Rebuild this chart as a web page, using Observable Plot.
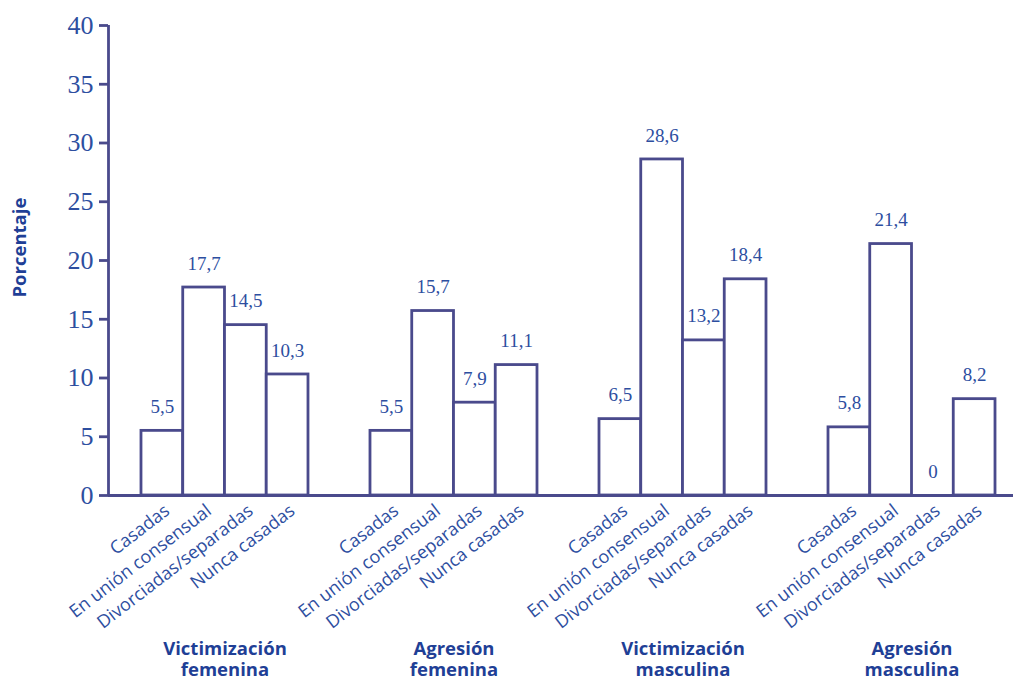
<!DOCTYPE html>
<html>
<head>
<meta charset="utf-8">
<script src="https://cdn.jsdelivr.net/npm/d3@7"></script>
<script src="https://cdn.jsdelivr.net/npm/@observablehq/plot@0.6"></script>
<style>
  html, body { margin: 0; padding: 0; background: #ffffff; }
  #chart svg { display: block; }
</style>
</head>
<body>
<div id="chart"></div>
<script>
// ---- Data ----
const groups = ["Victimización\nfemenina", "Agresión\nfemenina", "Victimización\nmasculina", "Agresión\nmasculina"];
const categories = ["Casadas", "En unión consensual", "Divorciadas/separadas", "Nunca casadas"];
const valuesVictimizacionFemenina = [5.5, 17.7, 14.5, 10.3];
const valuesAgresionFemenina = [5.5, 15.7, 7.9, 11.1];
const valuesVictimizacionMasculina = [6.5, 28.6, 13.2, 18.4];
const valuesAgresionMasculina = [5.8, 21.4, 0, 8.2];
const yTicks = [0, 5, 10, 15, 20, 25, 30, 35, 40];

const seriesValues = [valuesVictimizacionFemenina, valuesAgresionFemenina, valuesVictimizacionMasculina, valuesAgresionMasculina];

// layout of slots along a linear x scale: each group = 4 bar slots + a gap
const groupStep = 5.485;
const rows = [];
seriesValues.forEach((vals, g) => {
  vals.forEach((v, c) => {
    const x1 = g * groupStep + c;
    rows.push({group: groups[g], category: categories[c], value: v, x1, x2: x1 + 1, xc: x1 + 0.5});
  });
});
const groupRows = groups.map((name, g) => ({name, xc: g * groupStep + 2}));
const fmt = v => String(v).replace(".", ",");

const xDomain = [-0.79, 20.886];
const stroke = "#4a4a8c";
const textBlue = "#2d4e9f";
const boldBlue = "#1f3f96";
const serif = "'Liberation Serif', 'DejaVu Serif', serif";
const sans = "'Open Sans', 'Noto Sans', sans-serif";

const chart = Plot.plot({
  width: 1013,
  height: 680,
  marginLeft: 108,
  marginRight: 0,
  marginTop: 25,
  marginBottom: 185,
  style: {background: "#ffffff", overflow: "visible"},
  x: {type: "linear", domain: xDomain, axis: null},
  y: {domain: [0, 40], axis: null},
  marks: [
    Plot.rect(rows, {x1: "x1", x2: "x2", y1: 0, y2: "value", fill: "#ffffff", stroke, strokeWidth: 2.8}),
    Plot.ruleY([0], {stroke, strokeWidth: 2.8}),
    Plot.ruleX([xDomain[0]], {y1: 0, y2: 40, stroke, strokeWidth: 2.8}),
    Plot.axisY({ticks: yTicks, tickSize: 9, tickPadding: 6, tickFormat: d => d, stroke, strokeWidth: 2.8,
      fontSize: 26, fontFamily: serif, fill: textBlue, label: null}),
    Plot.text(rows, {x: "xc", y: "value", text: d => fmt(d.value), dy: -24, fontSize: 19, fontFamily: serif, fill: textBlue}),
    Plot.text(rows, {x: "xc", y: 0, text: "category", rotate: -37.5, textAnchor: "end", lineAnchor: "middle",
      dx: 5, dy: 13, fontSize: 18, fontFamily: sans, fill: textBlue}),
    Plot.text(groupRows, {x: "xc", y: 0, text: "name", lineAnchor: "middle", dy: 163, lineHeight: 1.18,
      fontSize: 18.5, fontWeight: "bold", fontFamily: sans, fill: boldBlue}),
    Plot.text(["Porcentaje"], {x: xDomain[0], y: 21.1, text: d => d, rotate: -90, dx: -88, fontSize: 18.5,
      fontWeight: "bold", fontFamily: sans, fill: boldBlue})
  ]
});
document.getElementById("chart").appendChild(chart);
</script>
</body>
</html>
